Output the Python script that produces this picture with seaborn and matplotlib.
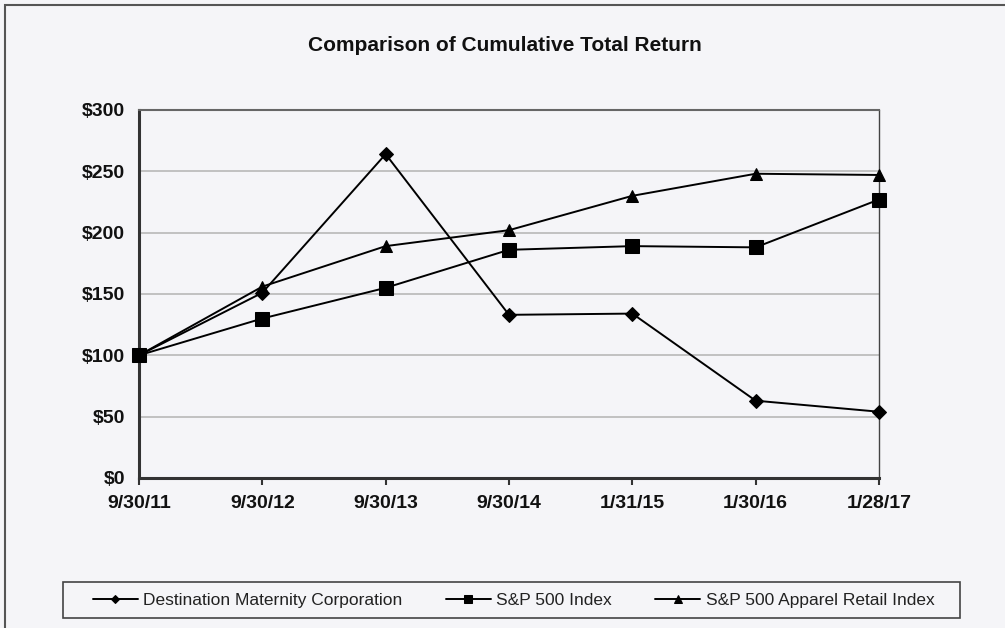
import matplotlib
matplotlib.use("Agg")
import matplotlib.pyplot as plt
import seaborn as sns
import pandas as pd
from matplotlib.patches import Rectangle

# data
dates = ["9/30/11", "9/30/12", "9/30/13", "9/30/14", "1/31/15", "1/30/16", "1/28/17"]
dmc = [100, 151, 264, 133, 134, 63, 54]
sp500 = [100, 130, 155, 186, 189, 188, 227]
apparel = [100, 156, 189, 202, 230, 248, 247]

series_names = ["Destination Maternity Corporation", "S&P 500 Index", "S&P 500 Apparel Retail Index"]
markers = {"Destination Maternity Corporation": "D",
           "S&P 500 Index": "s",
           "S&P 500 Apparel Retail Index": "^"}
msizes = {"Destination Maternity Corporation": 7,
          "S&P 500 Index": 10,
          "S&P 500 Apparel Retail Index": 9}

df = pd.DataFrame({
    "date": dates * 3,
    "value": dmc + sp500 + apparel,
    "series": [series_names[0]] * 7 + [series_names[1]] * 7 + [series_names[2]] * 7,
})

sns.set_theme(style="white")
plt.rcParams["font.family"] = ["Liberation Sans", "DejaVu Sans"]

bg = "#f5f5f8"
W, H = 1005, 628
fig = plt.figure(figsize=(W / 100, H / 100), dpi=100, facecolor=bg)
ax = fig.add_axes([0.1383, 0.2389, 0.7363, 0.586])
ax.set_facecolor(bg)

for name in series_names:
    sub = df[df["series"] == name]
    sns.lineplot(data=sub, x="date", y="value", ax=ax, sort=False, color="black",
                 linewidth=1.4, marker=markers[name], markersize=msizes[name],
                 markeredgecolor="black", markerfacecolor="black", label=name,
                 legend=False, clip_on=False, zorder=3)

ax.set_xlim(0, len(dates) - 1)
ax.set_ylim(0, 300)
ax.set_yticks(range(0, 301, 50))
ax.set_yticklabels([f"${v}" for v in range(0, 301, 50)])
ax.set_xlabel("")
ax.set_ylabel("")

for y in range(50, 300, 50):
    ax.axhline(y, color="#b8b8b8", linewidth=1.2, zorder=1)

for side in ["left", "bottom"]:
    ax.spines[side].set_color("#333333")
    ax.spines[side].set_linewidth(2.2)
ax.spines["top"].set_color("#666666")
ax.spines["top"].set_linewidth(1.5)
ax.spines["right"].set_color("#444444")
ax.spines["right"].set_linewidth(1.0)

ax.tick_params(axis="x", bottom=True, direction="out", length=5, width=1.5,
               color="#333333", labelsize=14, pad=7)
ax.tick_params(axis="y", left=False, labelsize=14, pad=4)
for lbl in ax.get_xticklabels() + ax.get_yticklabels():
    lbl.set_fontweight("bold")
    lbl.set_color("#111111")

fig.text(0.502, 0.928, "Comparison of Cumulative Total Return", ha="center", va="center",
         fontsize=15, fontweight="bold", color="#111111")

handles, labels = ax.get_legend_handles_labels()
leg = fig.legend(handles, labels, loc="center left", bbox_to_anchor=(84 / W, 1 - 600 / H),
                 ncol=3, frameon=False, fontsize=12.5, markerscale=0.6,
                 handlelength=2.6, columnspacing=2.5, borderpad=0, handletextpad=0.3)
for t in leg.get_texts():
    t.set_color("#222222")

# legend frame
fig.patches.append(Rectangle((63 / W, 1 - 618 / H), (960 - 63) / W, 36 / H,
                             transform=fig.transFigure, fill=False,
                             edgecolor="#444444", linewidth=1.2))
# outer border
fig.patches.append(Rectangle((5 / W, -0.02), 1.0, 1 - 5 / H + 0.02, transform=fig.transFigure,
                             fill=False, edgecolor="#555555", linewidth=1.5))

fig.savefig("out.png", dpi=100, facecolor=bg)
